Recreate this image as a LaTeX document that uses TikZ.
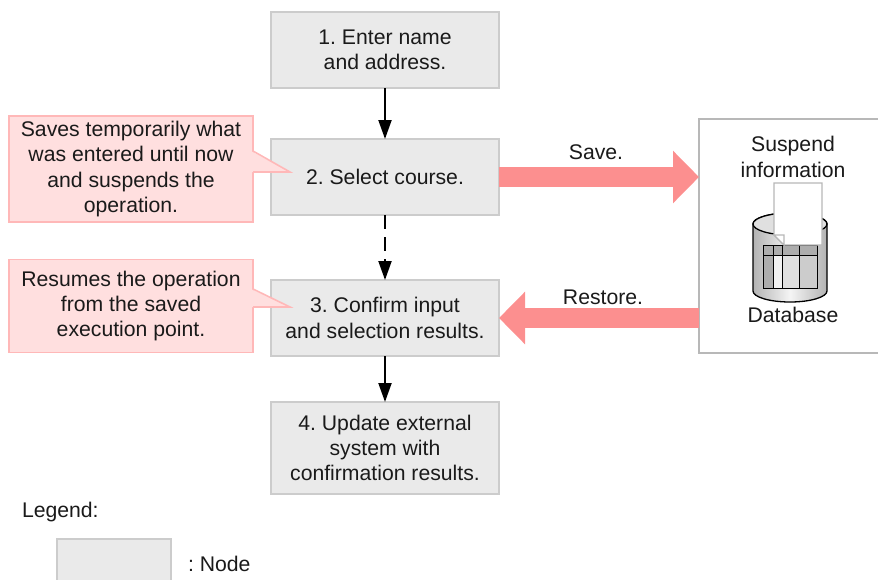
\documentclass[tikz,border=0pt]{standalone}
\usepackage{fontspec}
\setmainfont{Liberation Sans}
\usepackage{tikz}
\usetikzlibrary{calc,arrows.meta,positioning}
\definecolor{boxfill}{HTML}{EAEAEA}
\definecolor{boxline}{HTML}{CCCCCC}
\definecolor{notefill}{HTML}{FFDFDF}
\definecolor{noteline}{HTML}{FFB8B8}
\definecolor{flowred}{HTML}{FC8F8F}
\definecolor{storeline}{HTML}{B8B8B8}
\definecolor{inktext}{HTML}{1A1A1A}
\tikzset{
	every node/.style={font=\fontsize{21.2}{25.3}\selectfont\frenchspacing,text=inktext,outer sep=0pt,inner sep=0pt},
	stepbox/.style={rectangle,draw=boxline,fill=boxfill,line width=1.8pt,minimum width=228pt,align=center},
	notebox/.style={rectangle,draw=noteline,fill=notefill,line width=1.6pt,minimum width=244pt,align=center},
	flow/.style={-{Stealth[length=19pt,width=13pt,inset=0pt]},line width=2pt,black},
	bigflow/.style={-{Triangle[length=26pt,width=51pt]},line width=20pt,flowred}
}

\begin{document}
\begin{tikzpicture}[x=1pt,y=-1pt]
	\useasboundingbox (0,0) rectangle (878,579);
	\clip (0,0) rectangle (878,579);

	% Steps
	\node[stepbox,minimum height=76pt] (enter) at (385,50) {1. Enter name\\and address.};
	\node[stepbox,minimum height=76pt] (select) [below=51pt of enter] {2. Select course.};
	\node[stepbox,minimum height=76pt] (confirm) [below=65pt of select] {3. Confirm input\\and selection results.};
	\node[stepbox,minimum height=92pt] (update) [below=46pt of confirm] {4. Update external\\system with\\confirmation results.};

	% Notes
	\node[notebox,minimum height=106pt] (saves) at (131,169) {Saves temporarily what\\was entered until now\\and suspends the\\operation.};
	\node[notebox,minimum height=93pt] (resumes) at (131,306) {Resumes the operation\\from the saved\\execution point.};
	\coordinate (savestip) at (290,172);
	\coordinate (resumestip) at (290,307);
	\fill[notefill] (251,151) -- (savestip) -- (251,172) -- cycle;
	\draw[noteline,line width=1.6pt,line join=miter] (253,151) -- (savestip) -- (253,172);
	\fill[notefill] (251,289) -- (resumestip) -- (251,307) -- cycle;
	\draw[noteline,line width=1.6pt,line join=miter] (253,289) -- (resumestip) -- (253,307);

	% Store
	\node[rectangle,draw=storeline,fill=white,line width=1.6pt,minimum width=200pt,minimum height=234pt] (store) at (799,236) {};
	\node[align=center] (suspend) at (793,157) {Suspend\\information};
	\node (database) at (793,315) {Database};

	% Cylinder
	\draw[line width=1.3pt,black,left color=black!30,right color=black!30,middle color=black!4]
		(753,224) -- (753,291) arc[start angle=180,end angle=360,x radius=37pt,y radius=11pt]
		-- (827,224) arc[start angle=0,end angle=180,x radius=37pt,y radius=11pt] -- cycle;
	\draw[line width=1.3pt,black,fill=black!12] (790,224) ellipse[x radius=37pt,y radius=11pt];
	\fill[black!32] (763,245) rectangle (817,255);
	\fill[black!32] (763,255) rectangle (773,288);
	\fill[black!5] (773,255) rectangle (782,288);
	\fill[black!12] (782,255) rectangle (799,288);
	\fill[black!20] (799,255) rectangle (817,288);
	\draw[line width=0.9pt,black] (763,245) rectangle (817,288);
	\draw[line width=0.9pt,black] (763,255) -- (817,255);
	\draw[line width=0.9pt,black] (773,245) -- (773,288);
	\draw[line width=0.9pt,black] (782,245) -- (782,288);
	\draw[line width=0.9pt,black] (799,245) -- (799,288);

	% Paper
	\draw[storeline,fill=white,line width=1.3pt] (774,183) -- (822,183) -- (822,245) -- (784,245) -- (774,235) -- cycle;
	\draw[storeline,fill=white,line width=1.3pt] (774,235) -- (784,235) -- (784,245) -- cycle;

	% Vertical Arrows
	\draw[flow] (enter) -- (select);
	\draw[flow,dash pattern=on 14pt off 8pt] (select) -- (confirm);
	\draw[flow] (confirm) -- (update);

	% Horizontal Arrows
	\draw[bigflow] (select.east) -- (store.west |- select.east);
	\draw[bigflow] (store.west |- confirm.east) -- (confirm.east);
	\node (save) at (596,152.5) {Save.};
	\node (restore) at (603,297) {Restore.};

	% Legend
	\node[anchor=west] (legend) at (22,512) {Legend:};
	\node[stepbox,minimum width=114pt,minimum height=80pt] (legendbox) at (114,579) {};
	\node[anchor=west] (nodelabel) at (188,564) {: Node};
\end{tikzpicture}
\end{document}
